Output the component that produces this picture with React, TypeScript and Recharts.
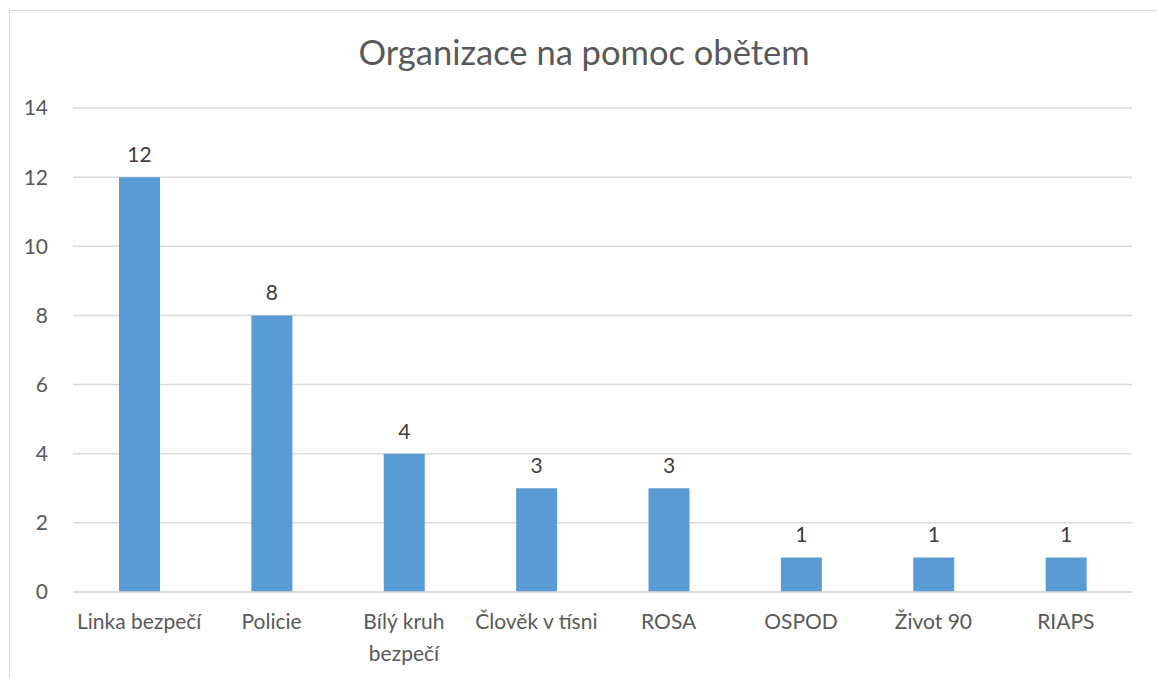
import React from "react";
import { BarChart, Bar, XAxis, YAxis, CartesianGrid, LabelList } from "recharts";

const categories = [
  "Linka bezpečí",
  "Policie",
  "Bílý kruh\nbezpečí",
  "Člověk v tísni",
  "ROSA",
  "OSPOD",
  "Život 90",
  "RIAPS",
];
const counts = [12, 8, 4, 3, 3, 1, 1, 1];
const yTicks = [0, 2, 4, 6, 8, 10, 12, 14];

const data = categories.map((name, i) => ({ name, value: counts[i] }));

const FONT = "Lato, 'Open Sans', sans-serif";
const TEXT = "#595959";

function CategoryTick(props: any) {
  const { x, y, payload } = props;
  const lines = String(payload.value).split("\n");
  return (
    <text x={x} y={y} textAnchor="middle" fill={TEXT} fontSize={21} fontFamily={FONT}>
      {lines.map((line, i) => (
        <tspan key={i} x={x} dy={i === 0 ? "0.9em" : "1.55em"}>
          {line}
        </tspan>
      ))}
    </text>
  );
}

export default function App() {
  return (
    <div style={{ position: "fixed", left: 0, top: 0, width: 1157, height: 678, background: "#fff" }}>
      <div
        style={{
          position: "absolute",
          left: 9,
          top: 10,
          width: 1160,
          height: 680,
          borderTop: "1.5px solid #d9d9d9",
          borderLeft: "1.5px solid #d9d9d9",
        }}
      />
      <BarChart
        width={1157}
        height={678}
        data={data}
        margin={{ top: 108, right: 25, left: 0, bottom: 26 }}
        barSize={41}
        style={{ position: "absolute", left: 0, top: 0 }}
      >
        <text
          x={584}
          y={56}
          textAnchor="middle"
          dominantBaseline="middle"
          fill={TEXT}
          fontSize={34.5}
          fontFamily={FONT}
        >
          Organizace na pomoc obětem
        </text>
        <CartesianGrid vertical={false} stroke="#d9d9d9" strokeWidth={1.5} />
        <XAxis
          dataKey="name"
          height={60}
          interval={0}
          axisLine={{ stroke: "#d9d9d9", strokeWidth: 1.5 }}
          tickLine={false}
          tickSize={0}
          tickMargin={18}
          tick={<CategoryTick />}
        />
        <YAxis
          width={73}
          domain={[0, 14]}
          ticks={yTicks}
          axisLine={false}
          tickLine={false}
          tickSize={0}
          tickMargin={25}
          tick={{ fill: TEXT, fontSize: 21, fontFamily: FONT }}
        />
        <Bar dataKey="value" fill="#5b9bd5" isAnimationActive={false}>
          <LabelList
            dataKey="value"
            position="top"
            offset={15}
            fill="#404040"
            fontSize={21}
            fontFamily={FONT}
          />
        </Bar>
      </BarChart>
    </div>
  );
}
